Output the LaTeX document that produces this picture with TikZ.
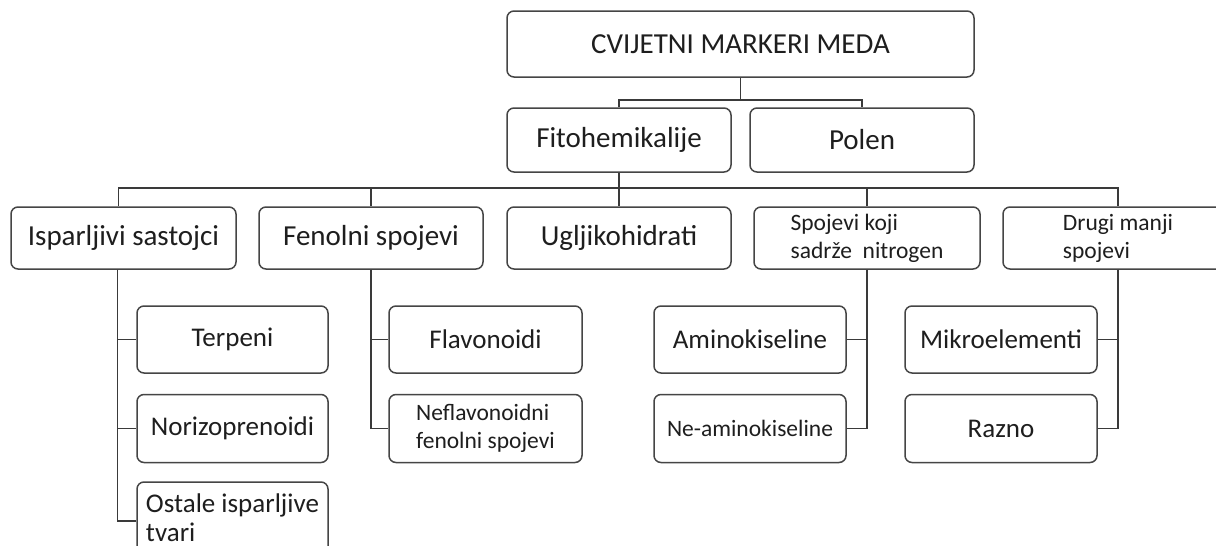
\documentclass[tikz,border=0pt]{standalone}
\usepackage{fontspec}
\setmainfont{Carlito}
\usetikzlibrary{calc}

\definecolor{boxgray}{HTML}{454545}
\definecolor{linegray}{HTML}{3A3A3A}
\definecolor{txtgray}{HTML}{1E1E1E}

\begin{document}
\begin{tikzpicture}[x=1pt,y=-1pt]
	\tikzstyle{mnode}=[rectangle, rounded corners=7pt, draw=boxgray, line width=1.5pt, inner sep=0pt, text=txtgray, font=\fontsize{29}{34}\selectfont]
	\tikzstyle{cnode}=[mnode, minimum width=224pt, minimum height=62pt]
	\tikzstyle{snode}=[mnode, minimum width=192pt, minimum height=68pt, font=\fontsize{27}{30}\selectfont]
	\tikzstyle{tnode}=[align=left, font=\fontsize{23.5}{28}\selectfont]
	\tikzstyle{link}=[draw=linegray, line width=1.5pt]
	\useasboundingbox (0,0) rectangle (1216,546);
	\fill[white] (0,0) rectangle (1216,546);
	\clip (0,0) rectangle (1216,546);

	\node[mnode, minimum width=467pt, minimum height=66pt] (markeri) at (740.5,44) {CVIJETNI MARKERI MEDA};
	\node[cnode, minimum height=64pt] (fito) at (619,140) {Fitohemikalije};
	\node[cnode, minimum height=64pt] (polen) at (862,140) {Polen};

	\node[cnode, minimum width=225pt] (ispar) at (123.5,238) {Isparljivi sastojci};
	\node[cnode] (fenol) at (371,238) {Fenolni spojevi};
	\node[cnode] (uglji) at (619,238) {Ugljikohidrati};
	\node[cnode, tnode, minimum width=226pt] (spoj) at (867,238) {Spojevi koji\\sadrže\ \ nitrogen};
	\node[cnode, tnode, minimum width=230pt] (drugi) at (1118,238) {Drugi manji\\spojevi};

	\node[snode, minimum width=191pt, minimum height=67pt] (terp) at (232.5,339.5) {Terpeni};
	\node[snode, minimum width=191pt] (noriz) at (232.5,428.5) {Norizoprenoidi};
	\node[snode, minimum width=191pt, minimum height=72pt, align=left, font=\fontsize{27}{29}\selectfont] (ostale) at (232.5,518) {Ostale isparljive\\tvari};
	\node[snode, minimum width=193pt, minimum height=67pt] (flav) at (485.5,339.5) {Flavonoidi};
	\node[snode, tnode, minimum width=193pt] (nefl) at (485.5,428.5) {Neflavonoidni\\fenolni spojevi};
	\node[snode, minimum height=67pt] (amino) at (750,339.5) {Aminokiseline};
	\node[snode, font=\fontsize{23.5}{28}\selectfont] (neamino) at (750,428.5) {Ne-aminokiseline};
	\node[snode, minimum height=67pt] (mikro) at (1001,339.5) {Mikroelementi};
	\node[snode] (razno) at (1001,428.5) {Razno};

	\draw[link] (markeri.south) -- ++(0,22) coordinate (top);
	\draw[link] (fito.north) |- (top) -| (polen.north);
	\draw[link] (fito.south) -- (uglji.north);
	\coordinate (bus) at ($(fito.south)+(0,15)$);
	\draw[link] ([xshift=-5pt]ispar.north) |- (bus) -| (drugi.north);
	\draw[link] (fenol.north) |- (bus);
	\draw[link] (spoj.north) |- (bus);

	\foreach \k in {terp,noriz}
		\draw[link] ([xshift=-6pt]ispar.south) |- (\k.west);
	\draw[link] ([xshift=-6pt]ispar.south) |- ([yshift=-3pt]ostale.west);
	\foreach \k in {flav,nefl}
		\draw[link] (fenol.south) |- (\k.west);
	\foreach \k in {amino,neamino}
		\draw[link] (spoj.south) |- (\k.east);
	\foreach \k in {mikro,razno}
		\draw[link] (drugi.south) |- (\k.east);
\end{tikzpicture}
\end{document}
